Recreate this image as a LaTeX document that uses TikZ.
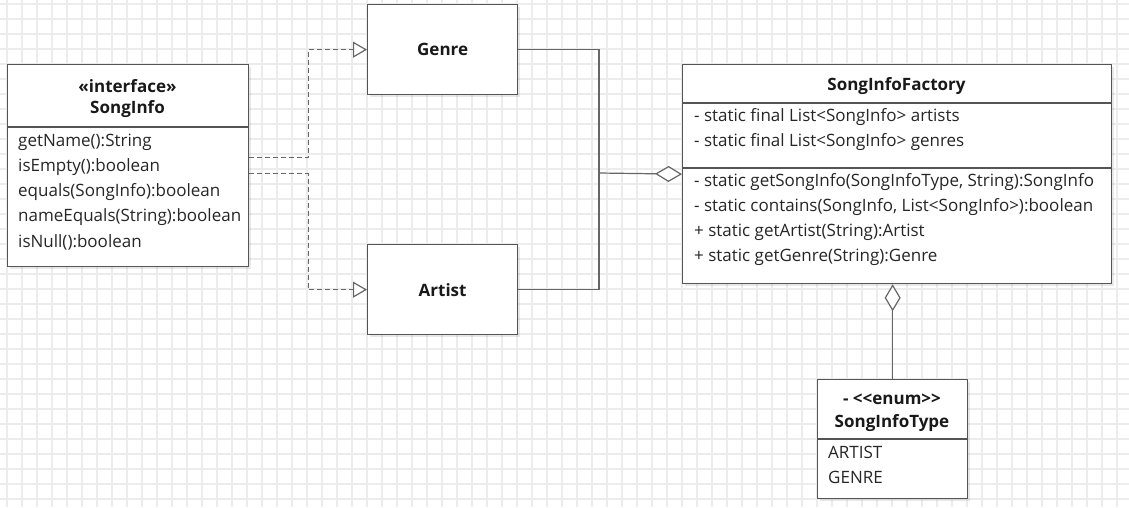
\documentclass[tikz,border=0pt]{standalone}
\usepackage{fontspec}
\setmainfont{Open Sans}
\usetikzlibrary{arrows.meta,shadows}
\definecolor{boxgray}{HTML}{555555}
\definecolor{linegray}{HTML}{666666}
\definecolor{gridgray}{HTML}{ECECEC}
\newcommand{\umlsize}{\fontsize{17}{20}\selectfont}
\tikzset{
	gridline/.style={color=gridgray, line width=1.2pt},
	classbox/.style={draw=boxgray, fill=white, line width=1.3pt, inner sep=0pt, anchor=north west,
		drop shadow={shadow xshift=2pt, shadow yshift=-2pt, opacity=0.18}},
	classname/.style={font=\umlsize\bfseries, inner sep=0pt, text=black!90},
	member/.style={anchor=west, font=\umlsize, inner sep=0pt, text=black!85},
	divider/.style={draw=boxgray, line width=1.3pt},
	assoc/.style={draw=linegray, line width=1.2pt},
	realize/.style={assoc, dash pattern=on 5pt off 3pt, -{Triangle[length=14pt, width=16pt, fill=white]}},
	aggregate/.style={assoc, -{Diamond[length=27pt, width=16pt, fill=white]}},
}

\begin{document}
\begin{tikzpicture}[x=1pt, y=-1pt]
		
		\useasboundingbox (0,0) rectangle (1129,507);
		\fill[white] (0,0) rectangle (1129,507);
		%\draw[style=help lines, step=15pt] (0,0) grid (1129,507);
		\foreach \gx in {7,22,...,1129} \draw[gridline] (\gx,0) -- (\gx,507);
		\foreach \gy in {4,19,...,507} \draw[gridline] (0,\gy) -- (1129,\gy);
		
		% interface
		\node[classbox, minimum width=241pt, minimum height=202pt] (songinfo) at (7,64) {};
		\node[classname] (songinfo-stereo) at (127.5,86) {«interface»};
		\node[classname] (songinfo-name) at (127.5,109) {SongInfo};
		\draw[divider] ([yshift=-63pt]songinfo.north west) -- ([yshift=-63pt]songinfo.north east);
		\node[member] (si-m1) at (18,142) {getName():String};
		\node[member] (si-m2) at (18,167) {isEmpty():boolean};
		\node[member] (si-m3) at (18,192) {equals(SongInfo):boolean};
		\node[member] (si-m4) at (18,217) {nameEquals(String):boolean};
		\node[member] (si-m5) at (18,242) {isNull():boolean};
		
		% classes
		\node[classbox, classname, minimum width=150pt, minimum height=90pt] (genre) at (367,4) {Genre};
		\node[classbox, classname, minimum width=150pt, minimum height=90pt] (artist) at (367,244) {Artist};
		
		% factory
		\node[classbox, minimum width=429pt, minimum height=219pt] (sif) at (682,64) {};
		\node[classname] (sif-name) at (896.5,86) {SongInfoFactory};
		\draw[divider] ([yshift=-39pt]sif.north west) -- ([yshift=-39pt]sif.north east);
		\draw[divider] ([yshift=-104pt]sif.north west) -- ([yshift=-104pt]sif.north east);
		\node[member] (sif-a1) at (694,117) {- static final List<SongInfo> artists};
		\node[member] (sif-a2) at (694,142) {- static final List<SongInfo> genres};
		\node[member] (sif-m1) at (694,182) {- static getSongInfo(SongInfoType, String):SongInfo};
		\node[member] (sif-m2) at (694,207) {- static contains(SongInfo, List<SongInfo>):boolean};
		\node[member] (sif-m3) at (694,232) {+ static getArtist(String):Artist};
		\node[member] (sif-m4) at (694,257) {+ static getGenre(String):Genre};
		
		% enum
		\node[classbox, minimum width=150pt, minimum height=119pt] (sit) at (817,379) {};
		\node[classname] (sit-stereo) at (892,399) {- {<}{<}enum{>}{>}};
		\node[classname] (sit-name) at (892,423) {SongInfoType};
		\draw[divider] ([yshift=-60pt]sit.north west) -- ([yshift=-60pt]sit.north east);
		\node[member] (sit-v1) at (828,452) {ARTIST};
		\node[member] (sit-v2) at (828,477) {GENRE};
		
		% connectors
		\draw[realize] ([yshift=8pt]songinfo.east) -- ++(59,0) |- (genre.west);
		\draw[realize] ([yshift=-8pt]songinfo.east) -- ++(59,0) |- (artist.west);
		\coordinate (join) at (599,173);
		\draw[assoc] (genre.east) -| (join) |- (artist.east);
		\draw[aggregate] (join) -- (sif.west);
		\draw[aggregate] (sit.north) -- (sit.north |- sif.south);
		
		\end{tikzpicture}
\end{document}
